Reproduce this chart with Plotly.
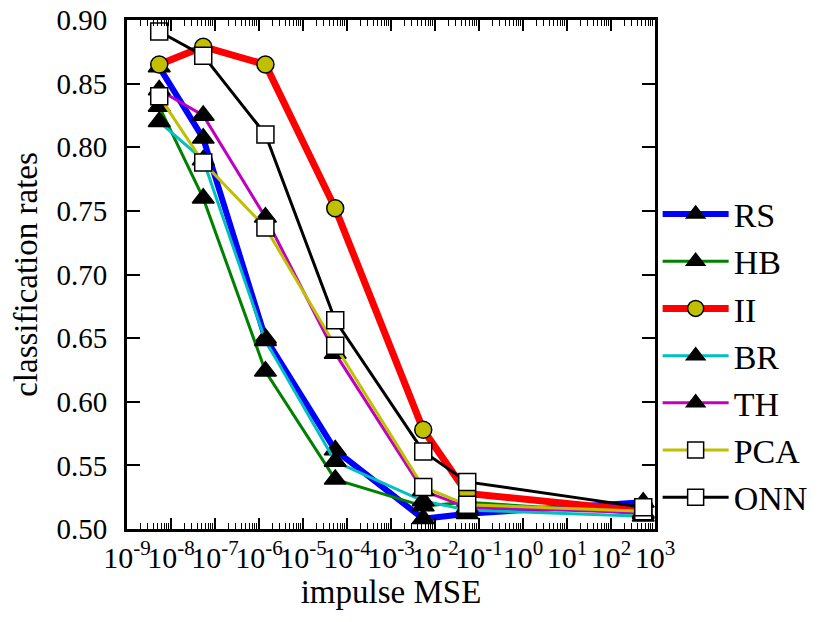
import numpy as np
import plotly.graph_objects as go

# impulse MSE (x, log scale)
mse = [5.4e-9, 5.4e-8, 1.4e-6, 5.4e-5, 5.4e-3, 5.4e-2, 5.4e2]

rs = [0.863, 0.807, 0.650, 0.562, 0.508, 0.512, 0.521]
hb = [0.832, 0.760, 0.624, 0.539, 0.518, 0.521, 0.512]
ii = [0.865, 0.879, 0.865, 0.752, 0.578, 0.528, 0.514]
br = [0.820, 0.790, 0.648, 0.553, 0.522, 0.515, 0.510]
th = [0.845, 0.825, 0.745, 0.638, 0.530, 0.517, 0.513]
pca = [0.840, 0.788, 0.737, 0.644, 0.533, 0.519, 0.514]
onn = [0.891, 0.872, 0.810, 0.664, 0.561, 0.537, 0.517]

series = [
    ("RS", rs, "#0000ff", 6, "triangle-up", "black"),
    ("HB", hb, "#008000", 3, "triangle-up", "black"),
    ("II", ii, "#ff0000", 7, "circle", "#c0c000"),
    ("BR", br, "#00c0c0", 3, "triangle-up", "black"),
    ("TH", th, "#c000c0", 3, "triangle-up", "black"),
    ("PCA", pca, "#c0c000", 3, "square", "white"),
    ("ONN", onn, "#000000", 3, "square", "white"),
]

FONT = "Liberation Serif, Times New Roman, serif"

fig = go.Figure()
for name, vals, color, width, symbol, fill in series:
    size = 19 if symbol == "triangle-up" else 17
    fig.add_trace(go.Scatter(
        x=mse, y=vals, name=name, mode="lines+markers",
        line=dict(color=color, width=width),
        marker=dict(symbol=symbol, size=size, color=fill,
                    line=dict(color="black", width=1.5)),
    ))

decades = list(range(-9, 4))
minor_vals = [m * 10.0 ** d for d in decades[:-1] for m in range(2, 10)]

fig.update_xaxes(
    type="log", range=[-9, 3], automargin=False,
    tickvals=[10.0 ** d for d in decades],
    ticktext=[f"10<sup>{d}</sup>" for d in decades],
    tickangle=0, ticklabeloverflow="allow",
    ticks="inside", ticklen=11, tickwidth=1.5, tickcolor="black",
    minor=dict(tickvals=minor_vals, ticks="inside", ticklen=6,
               tickwidth=1.2, tickcolor="black", showgrid=False),
    showline=True, linewidth=3, linecolor="black", mirror="ticks",
    showgrid=False, zeroline=False,
    title=dict(text="impulse MSE", font=dict(size=33), standoff=2),
    tickfont=dict(size=30),
)
fig.update_yaxes(
    range=[0.5, 0.9], automargin=False,
    tickvals=[0.50, 0.55, 0.60, 0.65, 0.70, 0.75, 0.80, 0.85, 0.90],
    tickformat=".2f", ticklabeloverflow="allow",
    ticks="inside", ticklen=13, tickwidth=1.5, tickcolor="black",
    ticklabelstandoff=11,
    showline=True, linewidth=3, linecolor="black", mirror="ticks",
    showgrid=False, zeroline=False,
    title=dict(text="classification rates", font=dict(size=33), standoff=15),
    tickfont=dict(size=29),
)

# page body adds an 8px offset, so the canvas is 822x614
fig.update_layout(
    width=822, height=614,
    margin=dict(l=119, r=175, t=12, b=93, autoexpand=False),
    paper_bgcolor="white", plot_bgcolor="white",
    font=dict(family=FONT, color="black"),
    showlegend=True,
    legend=dict(x=1.005, y=0.675, xanchor="left", yanchor="top",
                font=dict(size=34), itemwidth=66,
                bgcolor="rgba(0,0,0,0)", tracegroupgap=0),
)

fig.write_html("out.html")
